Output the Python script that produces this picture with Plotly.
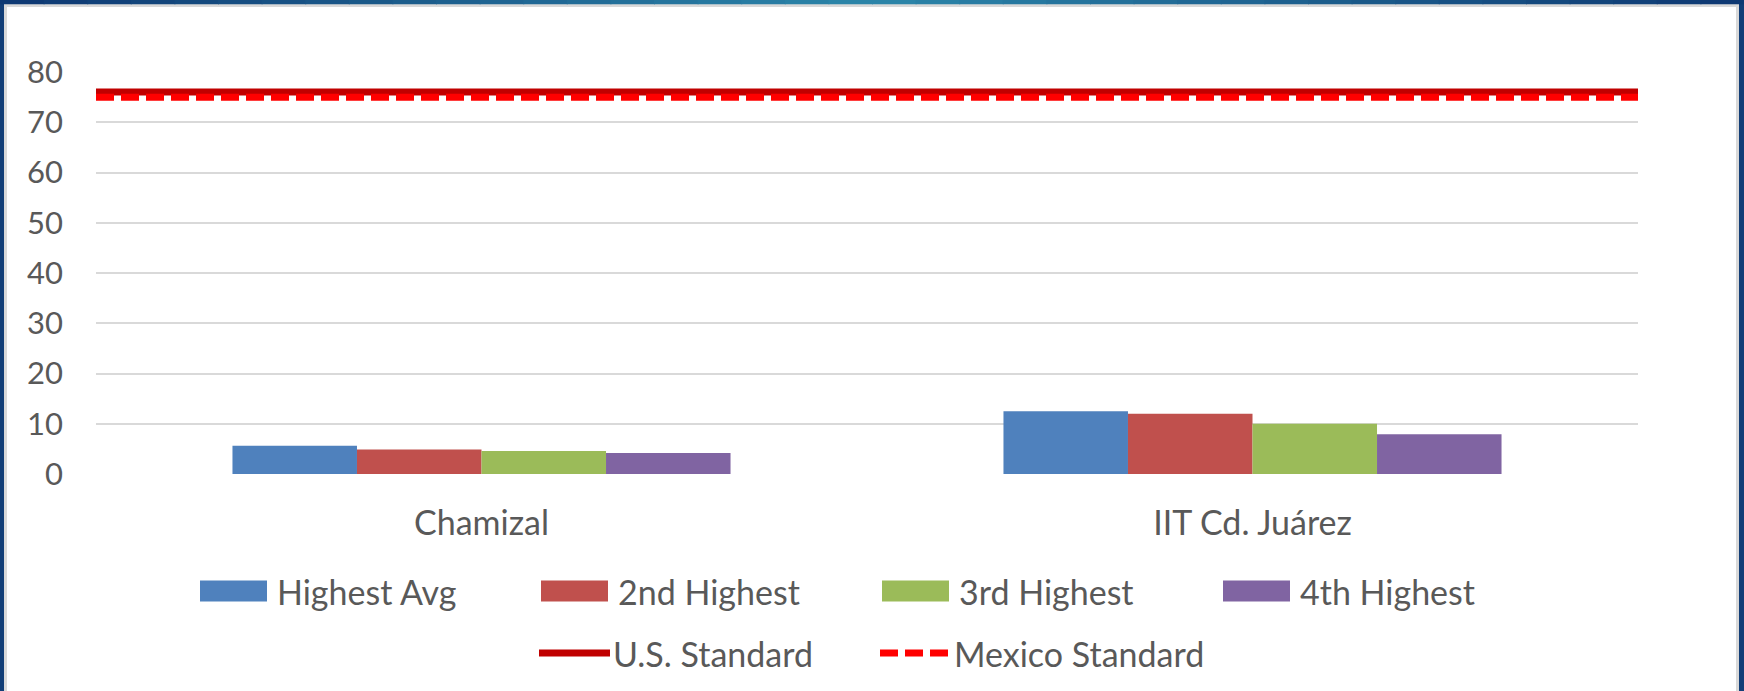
import plotly.graph_objects as go

# ---------------- data ----------------
categories = ["Chamizal", "IIT Cd. Juárez"]
series_names = ["Highest Avg", "2nd Highest", "3rd Highest", "4th Highest"]
highest_avg = [5.6, 12.5]
second_highest = [4.9, 12.0]
third_highest = [4.6, 10.0]
fourth_highest = [4.2, 7.9]
line_names = ["U.S. Standard", "Mexico Standard"]
us_standard = 76
mexico_standard = 75
y_ticks = [0, 10, 20, 30, 40, 50, 60, 70, 80]

# ---------------- style ----------------
bar_colors = ["#4F81BD", "#C0504D", "#9BBB59", "#8064A2"]
line_colors = ["#C00000", "#FF0000"]
line_dashes = ["solid", "18px,7px"]
TEXT = "#595959"
FONT = "Lato"
FS_TICK = 31
FS_TEXT = 34

W, H = 1744, 691
L, R, T, B = 96, 106, 72, 217
PW = W - L - R
PH = H - T - B


def px_x(px):
    return (px - L) / PW


def px_y(py):
    return (H - B - py) / PH


fig = go.Figure()

series_values = [highest_avg, second_highest, third_highest, fourth_highest]
for name, vals, col in zip(series_names, series_values, bar_colors):
    fig.add_trace(go.Bar(name=name, x=categories, y=vals, marker_color=col,
                         marker_line_width=0, showlegend=False))

for name, val, col, dash in zip(line_names, [us_standard, mexico_standard], line_colors, line_dashes):
    fig.add_trace(go.Scatter(name=name, x=[0, 1], y=[val, val], mode="lines",
                             line=dict(color=col, width=7, dash=dash),
                             xaxis="x2", yaxis="y", showlegend=False))

shapes = []
annotations = []

# background frame: white chart area with grey border on navy page
shapes.append(dict(type="rect", xref="paper", yref="paper", layer="below",
                   x0=px_x(5.5), x1=px_x(1737.5), y0=px_y(720), y1=px_y(5.5),
                   fillcolor="white", line=dict(color="#D9D9D9", width=3)))

# top gradient strip
N = 40
c_dark = (14, 56, 114)
c_light = (44, 134, 170)
for i in range(N):
    t = (i + 0.5) / N
    k = max(0.0, 1 - abs(t - 0.5) / 0.5)
    col = tuple(int(c_dark[j] + (c_light[j] - c_dark[j]) * k) for j in range(3))
    shapes.append(dict(type="rect", xref="paper", yref="paper", layer="below",
                       x0=px_x(W * i / N), x1=px_x(W * (i + 1) / N + 1),
                       y0=px_y(4.2), y1=px_y(-2),
                       fillcolor="rgb(%d,%d,%d)" % col, line=dict(width=0)))

# custom legend, row 1 (bars)
step = 341
row1_y = 591
for i, (name, col) in enumerate(zip(series_names, bar_colors)):
    x0 = 200 + i * step
    shapes.append(dict(type="rect", xref="paper", yref="paper",
                       x0=px_x(x0), x1=px_x(x0 + 67),
                       y0=px_y(row1_y + 10.5), y1=px_y(row1_y - 10.5),
                       fillcolor=col, line=dict(width=0)))
    annotations.append(dict(xref="paper", yref="paper", x=px_x(x0 + 75), y=px_y(row1_y),
                            xanchor="left", yanchor="middle", text=name, showarrow=False,
                            font=dict(family=FONT, size=FS_TEXT, color=TEXT)))

# row 2 (lines)
row2_y = 653
for i, (name, col, dash) in enumerate(zip(line_names, line_colors, line_dashes)):
    x0 = 539 + i * step
    shapes.append(dict(type="line", xref="paper", yref="paper",
                       x0=px_x(x0), x1=px_x(x0 + 71),
                       y0=px_y(row2_y), y1=px_y(row2_y),
                       line=dict(color=col, width=7, dash=dash)))
    annotations.append(dict(xref="paper", yref="paper", x=px_x(x0 + 72), y=px_y(row2_y),
                            xanchor="left", yanchor="middle", text=name, showarrow=False,
                            font=dict(family=FONT, size=FS_TEXT, color=TEXT)))

fig.update_layout(
    width=W, height=H,
    margin=dict(l=L, r=R, t=T, b=B, pad=0),
    paper_bgcolor="#123E77",
    plot_bgcolor="rgba(0,0,0,0)",
    barmode="group",
    bargap=0.354,
    bargroupgap=0,
    font=dict(family=FONT, size=FS_TICK, color=TEXT),
    xaxis=dict(type="category", range=[-0.5, 1.5], showgrid=False, zeroline=False,
               showline=False, ticks="", ticklabelstandoff=26,
               tickfont=dict(family=FONT, size=FS_TEXT, color=TEXT)),
    xaxis2=dict(overlaying="x", range=[0, 1], visible=False, fixedrange=True),
    yaxis=dict(range=[0, 80], tickvals=y_ticks, showgrid=True, gridcolor="#D9D9D9",
               gridwidth=2, zeroline=False, showline=False, ticks="",
               ticklabelstandoff=32, tickfont=dict(family=FONT, size=FS_TICK, color=TEXT)),
    shapes=shapes,
    annotations=annotations,
    showlegend=False,
)

fig.write_html("out.html", config={"displayModeBar": False},
               post_script="document.body.style.margin='0';document.body.style.overflow='hidden';")
